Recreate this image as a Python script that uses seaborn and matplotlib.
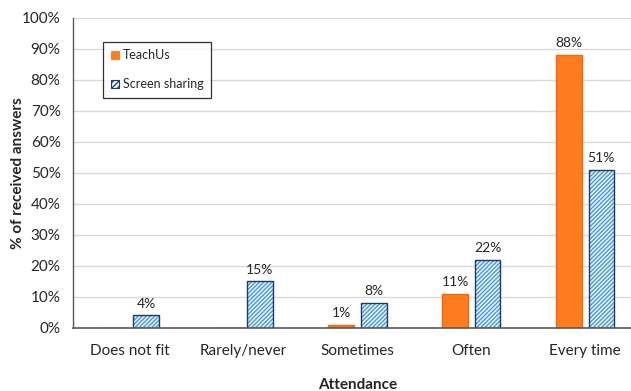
import matplotlib
matplotlib.use("Agg")
import matplotlib.pyplot as plt
from matplotlib.patches import Rectangle, Patch
from matplotlib.ticker import PercentFormatter
import seaborn as sns
import pandas as pd

categories = ["Does not fit", "Rarely/never", "Sometimes", "Often", "Every time"]
teachus = [0, 0, 1, 11, 88]
screen_sharing = [4, 15, 8, 22, 51]
series_names = ["TeachUs", "Screen sharing"]
y_ticks = list(range(0, 101, 10))

df = pd.DataFrame({
    "Attendance": categories * 2,
    "Share": teachus + screen_sharing,
    "Method": [series_names[0]] * len(categories) + [series_names[1]] * len(categories),
})

sns.set_style("white")
plt.rcParams["font.family"] = ["Lato", "DejaVu Sans"]
plt.rcParams["hatch.linewidth"] = 0.9

ORANGE = "#FF7C1F"
ORANGE_EDGE = "#F5650A"
HATCH_BLUE = "#3F93DA"
BLUE_BG = "#E4F0FA"
NAVY = "#1F3864"
TEXT = "#262626"

fig = plt.figure(figsize=(6.31, 3.91), dpi=100)
ax = fig.add_axes([73 / 631, 63.3 / 391, 569 / 631, 310 / 391])

sns.barplot(data=df, x="Attendance", y="Share", hue="Method", order=categories,
            hue_order=series_names, palette=[ORANGE, BLUE_BG], saturation=1,
            width=0.57, gap=0.21, errorbar=None, legend=False, ax=ax, zorder=3)

bars = [p for p in ax.patches if isinstance(p, Rectangle)]
n = len(categories)
orange_bars, blue_bars = bars[:n], bars[n:2 * n]

for p in orange_bars:
    p.set_facecolor(ORANGE)
    p.set_edgecolor(ORANGE_EDGE)
    p.set_linewidth(1.0)
for p in blue_bars:
    p.set_facecolor(BLUE_BG)
    p.set_edgecolor(HATCH_BLUE)
    p.set_hatch("////////")
    p.set_linewidth(0)
    ax.add_patch(Rectangle((p.get_x(), p.get_y()), p.get_width(), p.get_height(),
                           fill=False, edgecolor=NAVY, linewidth=1.0, zorder=4))

for group, vals in ((orange_bars, teachus), (blue_bars, screen_sharing)):
    for p, v in zip(group, vals):
        if v > 0:
            ax.annotate(f"{v}%", (p.get_x() + p.get_width() / 2, v),
                        xytext=(0, 4), textcoords="offset points",
                        ha="center", va="bottom", fontsize=10, color=TEXT)

ax.set_xlim(-0.5, len(categories) - 0.5)
ax.set_ylim(0, 100)
ax.set_yticks(y_ticks)
ax.yaxis.set_major_formatter(PercentFormatter(decimals=0))
ax.grid(axis="y", color="#D9D9D9", linewidth=1.0, zorder=0)
ax.set_axisbelow(True)

for side in ("top", "right"):
    ax.spines[side].set_visible(False)
ax.spines["left"].set_color("#595959")
ax.spines["left"].set_linewidth(1.0)
ax.spines["bottom"].set_color("#595959")
ax.spines["bottom"].set_linewidth(1.2)
ax.spines["bottom"].set_zorder(5)

ax.tick_params(axis="y", length=0, labelsize=11, colors=TEXT, pad=9)
ax.tick_params(axis="x", length=0, labelsize=11, colors=TEXT, pad=12)
ax.set_xlabel("Attendance", fontsize=11, fontweight="bold", color=TEXT, labelpad=14)
ax.set_ylabel("% of received answers", fontsize=11, fontweight="bold", color=TEXT)
ax.yaxis.set_label_coords(-48 / 569, 0.5)

handles = [Patch(facecolor=ORANGE, edgecolor=ORANGE_EDGE, linewidth=0.5),
           Patch(facecolor=BLUE_BG, edgecolor=NAVY, hatch="//////", linewidth=0.8)]
leg = ax.legend(handles, series_names, loc="upper left", bbox_to_anchor=(0.053, 0.922),
                frameon=True, fancybox=False, edgecolor="black", fontsize=9,
                handlelength=0.7, handleheight=0.7, handletextpad=0.25,
                labelspacing=1.35, borderpad=0.6, borderaxespad=0)
leg.get_frame().set_linewidth(0.9)
for t in leg.get_texts():
    t.set_color(TEXT)

fig.savefig("out.png", dpi=100)
